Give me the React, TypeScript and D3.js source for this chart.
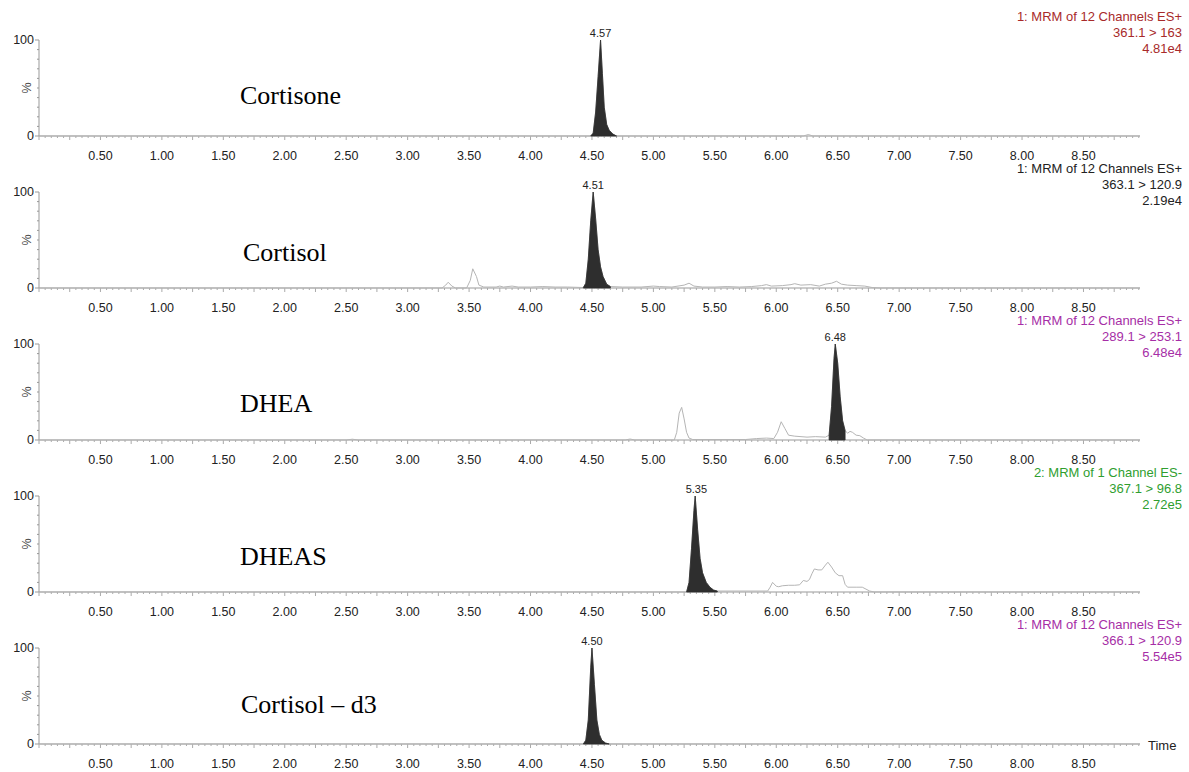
import React from 'react';
import * as d3 from 'd3';

// chromatogram traces: [time (min), intensity (%)]
const cortisoneTrace: [number, number][] = [
  [0, 0], [4.49, 0], [4.51, 3], [4.53, 25], [4.55, 62], [4.57, 100], [4.585, 65], [4.6, 30],
  [4.62, 12], [4.64, 6], [4.67, 2], [4.7, 0], [6.22, 0], [6.26, 1.5], [6.3, 0], [8.96, 0],
];
const cortisolTrace: [number, number][] = [
  [0, 0], [3.28, 0], [3.31, 3], [3.33, 6], [3.36, 2], [3.39, 0], [3.48, 0], [3.51, 8], [3.53, 20],
  [3.56, 12], [3.58, 3], [3.62, 1], [3.72, 1], [3.75, 2], [3.78, 1], [3.85, 2], [3.9, 1], [4.0, 1],
  [4.1, 1.5], [4.2, 1], [4.3, 1], [4.43, 0.5], [4.45, 5], [4.47, 30], [4.49, 70], [4.51, 100],
  [4.53, 72], [4.55, 40], [4.57, 22], [4.59, 12], [4.62, 4], [4.65, 1.5], [4.75, 1], [4.9, 1],
  [5.0, 2], [5.05, 1.5], [5.15, 1], [5.25, 3], [5.29, 5], [5.33, 2], [5.4, 1], [5.5, 1], [5.6, 1.5],
  [5.7, 1], [5.8, 1.5], [5.88, 2.5], [5.92, 3.5], [5.96, 2], [6.05, 2.5], [6.12, 3.5], [6.15, 4.5],
  [6.2, 3], [6.28, 3.5], [6.35, 2], [6.4, 4], [6.45, 5], [6.49, 7], [6.53, 4], [6.58, 3], [6.65, 2.5],
  [6.72, 2], [6.78, 0.5], [6.85, 0], [8.96, 0],
];
const dheaTrace: [number, number][] = [
  [0, 0], [2.5, 0], [2.55, 0.8], [2.6, 0], [4.77, 0], [4.81, 1], [4.85, 0], [5.17, 0], [5.19, 8],
  [5.21, 28], [5.23, 34], [5.25, 22], [5.27, 8], [5.29, 2], [5.32, 0.5], [5.75, 0.5], [5.84, 1.5],
  [5.92, 2], [5.98, 1.5], [6.01, 8], [6.04, 19], [6.07, 12], [6.1, 5], [6.15, 4], [6.25, 3],
  [6.32, 3.5], [6.4, 3], [6.43, 5], [6.45, 35], [6.47, 85], [6.48, 100], [6.5, 80], [6.52, 45],
  [6.54, 20], [6.56, 10], [6.58, 7], [6.6, 9], [6.62, 8], [6.65, 5], [6.68, 4.5], [6.71, 2],
  [6.74, 0], [8.96, 0],
];
const dheasTrace: [number, number][] = [
  [0, 0], [5.27, 0], [5.29, 10], [5.31, 45], [5.33, 85], [5.34, 100], [5.36, 65], [5.38, 35],
  [5.4, 20], [5.43, 10], [5.46, 5], [5.49, 2], [5.52, 1], [5.93, 1], [5.95, 5], [5.97, 10],
  [6.0, 6], [6.02, 5.5], [6.05, 6.5], [6.1, 7], [6.15, 7], [6.19, 7.5], [6.22, 12], [6.25, 11],
  [6.27, 13], [6.29, 19], [6.31, 24], [6.34, 23], [6.37, 23], [6.4, 28], [6.42, 31], [6.45, 26],
  [6.48, 20], [6.51, 17], [6.54, 17], [6.56, 8], [6.58, 5], [6.65, 5], [6.7, 5], [6.73, 3],
  [6.76, 1], [6.8, 0], [8.96, 0],
];
const cortisolD3Trace: [number, number][] = [
  [0, 0], [4.43, 0], [4.45, 4], [4.47, 25], [4.49, 80], [4.5, 100], [4.52, 62], [4.54, 25],
  [4.56, 10], [4.58, 4], [4.61, 1], [4.64, 0], [8.96, 0],
];

const compounds = ['Cortisone', 'Cortisol', 'DHEA', 'DHEAS', 'Cortisol \u2013 d3'];
const traces = [cortisoneTrace, cortisolTrace, dheaTrace, dheasTrace, cortisolD3Trace];
const peakRanges: [number, number][] = [[4.49, 4.7], [4.43, 4.65], [6.42, 6.57], [5.27, 5.52], [4.43, 4.64]];
const peakTimes = [4.57, 4.51, 6.48, 5.35, 4.5];
const functionLines = [
  '1: MRM of 12 Channels ES+',
  '1: MRM of 12 Channels ES+',
  '1: MRM of 12 Channels ES+',
  '2: MRM of 1 Channel ES-',
  '1: MRM of 12 Channels ES+',
];
const transitions = ['361.1 > 163', '363.1 > 120.9', '289.1 > 253.1', '367.1 > 96.8', '366.1 > 120.9'];
const intensities = ['4.81e4', '2.19e4', '6.48e4', '2.72e5', '5.54e5'];
const headerColors = ['#a82a2a', '#222222', '#a62ea6', '#2f9e2f', '#a62ea6'];
const xTickLabels = ['0.50', '1.00', '1.50', '2.00', '2.50', '3.00', '3.50', '4.00', '4.50', '5.00',
  '5.50', '6.00', '6.50', '7.00', '7.50', '8.00', '8.50'];

const W = 1189;
const H = 772;
const left = 39;
const right = 1140;
const panelTop0 = 40;
const panelStep = 152;
const panelH = 96;
const sans = 'Arial, "Liberation Sans", sans-serif';
const serif = '"Times New Roman", "Liberation Serif", serif';
// where each compound name sits (label placement, not data)
const nameX = [240, 243, 240, 240, 241];
const nameDy = [64, 69, 68, 69, 65];

const x = d3.scaleLinear().domain([0, 8.96]).range([left, right]);
const minorTicks = d3.range(0, 181).map(i => i * 0.05).filter(t => t <= 8.96);

function Panel({ idx }: { idx: number }) {
  const top = panelTop0 + idx * panelStep;
  const y = d3.scaleLinear().domain([0, 100]).range([top + panelH, top]);
  const base = top + panelH;
  const data = traces[idx];
  const [p0, p1] = peakRanges[idx];
  const line = d3.line<[number, number]>().x(d => x(d[0])).y(d => y(d[1]));
  const area = d3.area<[number, number]>().x(d => x(d[0])).y0(base).y1(d => y(d[1]));
  const peakPts = data.filter(d => d[0] >= p0 && d[0] <= p1);
  const yMinor = d3.range(0, 101, 10);

  return (
    <g>
      {/* y axis */}
      <line x1={left} x2={left} y1={top} y2={base} stroke="#999" strokeWidth={1} />
      {yMinor.map(v => (
        <line key={v} x1={left - (v % 100 === 0 ? 4 : 2)} x2={left} y1={y(v)} y2={y(v)} stroke="#999" />
      ))}
      <text x={34} y={y(100) + 4} textAnchor="end" fontFamily={sans} fontSize={12.5} fill="#222">100</text>
      <text x={34} y={y(0) + 4} textAnchor="end" fontFamily={sans} fontSize={12.5} fill="#222">0</text>
      <text transform={`translate(${31},${y(50)}) rotate(-90)`} textAnchor="middle" fontFamily={sans} fontSize={12.5} fill="#444">%</text>

      {/* x axis */}
      <line x1={left} x2={right} y1={base} y2={base} stroke="#999" strokeWidth={1} />
      {minorTicks.map((t, i) => {
        const len = i % 5 === 0 ? 4 : 2;
        return <line key={i} x1={x(t)} x2={x(t)} y1={base} y2={base + len} stroke="#aaa" />;
      })}
      {xTickLabels.map(l => (
        <text key={l} x={x(+l)} y={base + 24} textAnchor="middle" fontFamily={sans} fontSize={12.5} fill="#222">{l}</text>
      ))}

      {/* trace */}
      <path d={line(data) || ''} fill="none" stroke="#b5b5b5" strokeWidth={1} />
      <path d={area(peakPts) || ''} fill="#2e2e2e" stroke="#2e2e2e" strokeWidth={0.8} />
      <text x={x(peakTimes[idx])} y={top - 3} textAnchor="middle" fontFamily={sans} fontSize={11} fill="#222">
        {peakTimes[idx].toFixed(2)}
      </text>

      {/* compound name */}
      <text x={nameX[idx]} y={top + nameDy[idx]} fontFamily={serif} fontSize={26} fill="#000">{compounds[idx]}</text>

      {/* header */}
      <g fontFamily={sans} fontSize={13} fill={headerColors[idx]} textAnchor="end">
        <text x={1182} y={top - 19}>{functionLines[idx]}</text>
        <text x={1182} y={top - 3}>{transitions[idx]}</text>
        <text x={1182} y={top + 13}>{intensities[idx]}</text>
      </g>
    </g>
  );
}

export default function App() {
  return (
    <div style={{ position: 'absolute', left: 0, top: 0, background: '#fff' }}>
      <svg width={W} height={H} viewBox={`0 0 ${W} ${H}`}>
        <rect width={W} height={H} fill="#fff" />
        {compounds.map((_, i) => <Panel key={i} idx={i} />)}
        <text x={1148} y={750} fontFamily={sans} fontSize={13} fill="#222">Time</text>
      </svg>
    </div>
  );
}
